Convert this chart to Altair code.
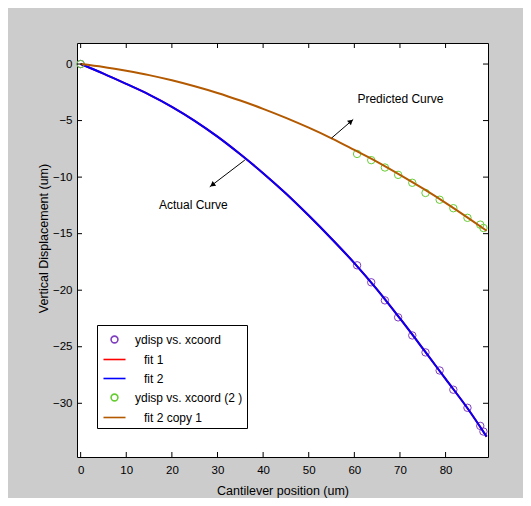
import altair as alt
import pandas as pd

FONT = "Liberation Sans"

# ---------------- data ----------------
x_ticks = [0, 10, 20, 30, 40, 50, 60, 70, 80]
y_ticks = [0, -5, -10, -15, -20, -25, -30]

fit_x = [0, 5, 10, 15, 20, 25, 30, 35, 40, 45, 50, 55, 60, 65, 70, 75, 80, 85, 89]
fit1_y = [0, -0.85, -1.76, -2.7, -3.78, -5.02, -6.42, -7.98, -9.65, -11.45, -13.4,
          -15.45, -17.6, -19.95, -22.5, -25.15, -27.85, -30.55, -32.95]
fit2_y = [0, -0.85, -1.76, -2.7, -3.78, -5.02, -6.42, -7.98, -9.65, -11.45, -13.4,
          -15.45, -17.6, -19.95, -22.5, -25.15, -27.85, -30.55, -32.95]
fit2copy_y = [0, -0.26, -0.6, -0.98, -1.44, -1.97, -2.56, -3.23, -3.96, -4.76, -5.63,
              -6.57, -7.6, -8.65, -9.8, -11.0, -12.27, -13.62, -14.74]

pts_x = [0, 60.6, 63.7, 66.7, 69.6, 72.7, 75.6, 78.7, 81.7, 84.8, 87.6, 88.3]
ydisp = [0, -17.8, -19.3, -20.9, -22.4, -24.0, -25.5, -27.1, -28.8, -30.4, -32.0, -32.5]
ydisp2 = [0, -7.95, -8.5, -9.15, -9.8, -10.5, -11.4, -12.0, -12.75, -13.6, -14.2, -14.5]

series = ["ydisp vs. xcoord", "\u2800fit 1", "\u2800fit 2",
          "ydisp vs. xcoord (2 )", "\u2800fit 2 copy 1"]
colors = ["#7f3fbf", "#ff0000", "#0000ff", "#66cc33", "#b35900"]
CIRCLE = "M0,-0.36A0.36,0.36 0 1,1 0,0.36A0.36,0.36 0 1,1 0,-0.36"
LINE = "M-1.16,0L1.16,0"
shapes = [CIRCLE, LINE, LINE, CIRCLE, LINE]

ann_text = ["Predicted Curve", "Actual Curve"]
ann_x = [70.1, 24.7]
ann_y = [-3.1, -12.5]
arrow_x = [55.0, 36.0]
arrow_y = [-6.55, -8.49]
arrow_x2 = [59.75, 28.3]
arrow_y2 = [-4.9, -10.86]
head_x = [59.25, 28.86]
head_y = [-5.07, -10.69]
head_angle = [49, 233]

# ---------------- layout ----------------
W, H = 411, 414
TL = 5

xscale = alt.Scale(domain=[-0.8, 89.3], nice=False, zero=False)
yscale = alt.Scale(domain=[-34.75, 1.86], nice=False, zero=False)

x_axis = alt.Axis(title="Cantilever position (um)", values=x_ticks, format="d",
                  ticks=False, domain=False, grid=False, labelPadding=7,
                  titleY=33, titleBaseline="middle")
y_axis = alt.Axis(title="Vertical Displacement (um)", values=y_ticks, format="d",
                  ticks=False, domain=False, grid=False, labelPadding=5,
                  titleX=-34, titleY=195, titleBaseline="middle", titleAlign="center")


def X(f):
    return alt.X(f, type="quantitative", scale=xscale, axis=x_axis)


def Y(f):
    return alt.Y(f, type="quantitative", scale=yscale, axis=y_axis)


def line_layer(ys, i):
    df = pd.DataFrame({"x": fit_x, "y": ys})
    return alt.Chart(df).mark_line(strokeWidth=2, interpolate="monotone",
                                   color=colors[i]).encode(x=X("x"), y=Y("y"))


def pts_layer(ys, i):
    df = pd.DataFrame({"x": pts_x, "y": ys})
    return alt.Chart(df).mark_point(shape="circle", filled=False, size=55,
                                    strokeWidth=1, opacity=1,
                                    color=colors[i]).encode(x=X("x"), y=Y("y"))


# tick marks pointing inward on all four sides
xt = pd.DataFrame({"t": x_ticks})
yt = pd.DataFrame({"t": y_ticks})
tick_style = dict(color="black", strokeWidth=1)
ticks = [
    alt.Chart(xt).mark_rule(**tick_style).encode(x=X("t"), y=alt.value(0), y2=alt.value(TL)),
    alt.Chart(xt).mark_rule(**tick_style).encode(x=X("t"), y=alt.value(H), y2=alt.value(H - TL)),
    alt.Chart(yt).mark_rule(**tick_style).encode(y=Y("t"), x=alt.value(0), x2=alt.value(TL)),
    alt.Chart(yt).mark_rule(**tick_style).encode(y=Y("t"), x=alt.value(W), x2=alt.value(W - TL)),
]

ann_df = pd.DataFrame({"x": ann_x, "y": ann_y, "text": ann_text})
arr_df = pd.DataFrame({"x": arrow_x, "y": arrow_y, "x2": arrow_x2, "y2": arrow_y2})
head_df = pd.DataFrame({"x": head_x, "y": head_y, "a": head_angle})

texts = alt.Chart(ann_df).mark_text(font=FONT, fontSize=12, color="black",
                                    align="center", baseline="middle").encode(
    x=X("x"), y=Y("y"), text="text:N")
arrows = alt.Chart(arr_df).mark_rule(color="black", strokeWidth=1).encode(
    x=X("x"), y=Y("y"), x2="x2:Q", y2="y2:Q")
heads = alt.Chart(head_df).mark_point(shape="triangle-up", filled=True, size=35,
                                      color="black", opacity=1).encode(
    x=X("x"), y=Y("y"), angle=alt.Angle("a:Q", scale=None))

# legend (dummy layer drawn off-canvas)
leg_df = pd.DataFrame({"series": series})
legend = alt.Legend(title=None, orient="none", legendX=20, legendY=282,
                    strokeColor="black", fillColor="white", padding=4,
                    rowPadding=2, labelOffset=10, symbolOffset=3,
                    symbolSize=361, symbolStrokeWidth=1.6,
                    labelFont=FONT, labelFontSize=12, labelColor="black",
                    cornerRadius=0, labelLimit=300)
leg_layer = alt.Chart(leg_df).mark_point(filled=False, size=361, opacity=1).encode(
    x=alt.value(-600), y=alt.value(-600),
    color=alt.Color("series:N", scale=alt.Scale(domain=series, range=colors), legend=legend),
    shape=alt.Shape("series:N", scale=alt.Scale(domain=series, range=shapes), legend=legend),
)

chart = alt.layer(
    pts_layer(ydisp, 0),
    line_layer(fit1_y, 1),
    line_layer(fit2_y, 2),
    pts_layer(ydisp2, 3),
    line_layer(fit2copy_y, 4),
    arrows, heads, texts,
    *ticks,
    leg_layer,
).properties(
    width=W, height=H,
    autosize=alt.AutoSizeParams(type="none"),
    padding={"left": 69, "top": 35, "right": 35, "bottom": 41},
    background="#cccccc",
).configure_view(
    fill="white", stroke="black", strokeWidth=1,
).configure_axis(
    labelFont=FONT, labelFontSize=11.5, labelColor="black",
    titleFont=FONT, titleFontSize=12.5, titleFontWeight="normal", titleColor="black",
)

chart.save("out.html", embed_options={"renderer": "svg", "actions": False})
